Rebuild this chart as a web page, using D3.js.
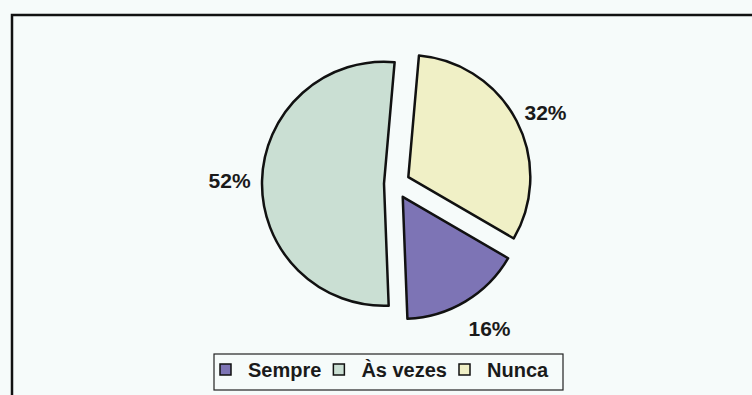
<!DOCTYPE html>
<html>
<head>
<meta charset="utf-8">
<script src="https://cdn.jsdelivr.net/npm/d3@7"></script>
<style>
  html, body { margin: 0; padding: 0; background: #f6fbfa; }
  svg { display: block; }
  text { font-family: "Liberation Sans", Arial, sans-serif; fill: #1a1a1a; font-weight: bold; }
</style>
</head>
<body>
<svg id="chart" width="752" height="395"></svg>
<script>
// Answers to the question, in legend order
const categories = ["Sempre", "Às vezes", "Nunca"];
const values = [16, 52, 32];
// Order in which the slices run clockwise from the top
const sliceOrder = ["Nunca", "Sempre", "Às vezes"];

const colors = { "Sempre": "#7d74b5", "Às vezes": "#cadfd3", "Nunca": "#f0f0c6" };
const explode = { "Sempre": 15, "Às vezes": 11, "Nunca": 15 };
const labelGap = { "Sempre": 24, "Às vezes": 10, "Nunca": 10 };

const W = 752, H = 395;
const svg = d3.select("#chart");

svg.append("rect").attr("width", W).attr("height", H).attr("fill", "#f6fbfa");

// chart frame (runs past the right and bottom edges)
svg.append("rect")
  .attr("x", 12).attr("y", 15).attr("width", 800).attr("height", 420)
  .attr("fill", "none").attr("stroke", "#111").attr("stroke-width", 2.5);

const cx = 395, cy = 184, r = 122;
const start = 5 * Math.PI / 180;

const data = categories.map((c, i) => ({ cat: c, value: values[i] }));
const pie = d3.pie()
  .value(d => d.value)
  .sort((a, b) => sliceOrder.indexOf(a.cat) - sliceOrder.indexOf(b.cat))
  .startAngle(start).endAngle(start + 2 * Math.PI);
const arcs = pie(data);
const arc = d3.arc().innerRadius(0).outerRadius(r);

const g = svg.append("g").attr("transform", `translate(${cx},${cy})`);

arcs.forEach(a => {
  const mid = (a.startAngle + a.endAngle) / 2;
  const dx = Math.sin(mid), dy = -Math.cos(mid);
  const off = explode[a.data.cat];
  const ox = dx * off, oy = dy * off;
  g.append("path")
    .attr("d", arc(a))
    .attr("transform", `translate(${ox},${oy})`)
    .attr("fill", colors[a.data.cat])
    .attr("stroke", "#111")
    .attr("stroke-width", 2.5)
    .attr("stroke-linejoin", "round");

  // percentage label just outside the slice edge
  const pct = Math.round(a.value / d3.sum(values) * 100) + "%";
  const gap = labelGap[a.data.cat], lw = 45, lh = 16;
  const lx = ox + dx * (r + gap) + dx * lw / 2;
  const ly = oy + dy * (r + gap) + dy * lh / 2;
  g.append("text")
    .attr("x", lx).attr("y", ly)
    .attr("text-anchor", "middle")
    .attr("dominant-baseline", "central")
    .attr("font-size", 21)
    .text(pct);
});

// legend
const legend = svg.append("g");
const lx0 = 214, ly0 = 354, lwBox = 349, lhBox = 36;
legend.append("rect")
  .attr("x", lx0).attr("y", ly0).attr("width", lwBox).attr("height", lhBox)
  .attr("fill", "#f6fbfa").attr("stroke", "#222").attr("stroke-width", 1.2);

let xc = lx0 + 6;
categories.forEach(c => {
  legend.append("rect")
    .attr("x", xc).attr("y", ly0 + 10).attr("width", 11).attr("height", 11)
    .attr("fill", colors[c]).attr("stroke", "#111").attr("stroke-width", 1.5);
  const t = legend.append("text")
    .attr("x", xc + 28).attr("y", ly0 + 23)
    .attr("font-size", 20)
    .text(c);
  xc += 28 + t.node().getComputedTextLength() + 12;
});
</script>
</body>
</html>
